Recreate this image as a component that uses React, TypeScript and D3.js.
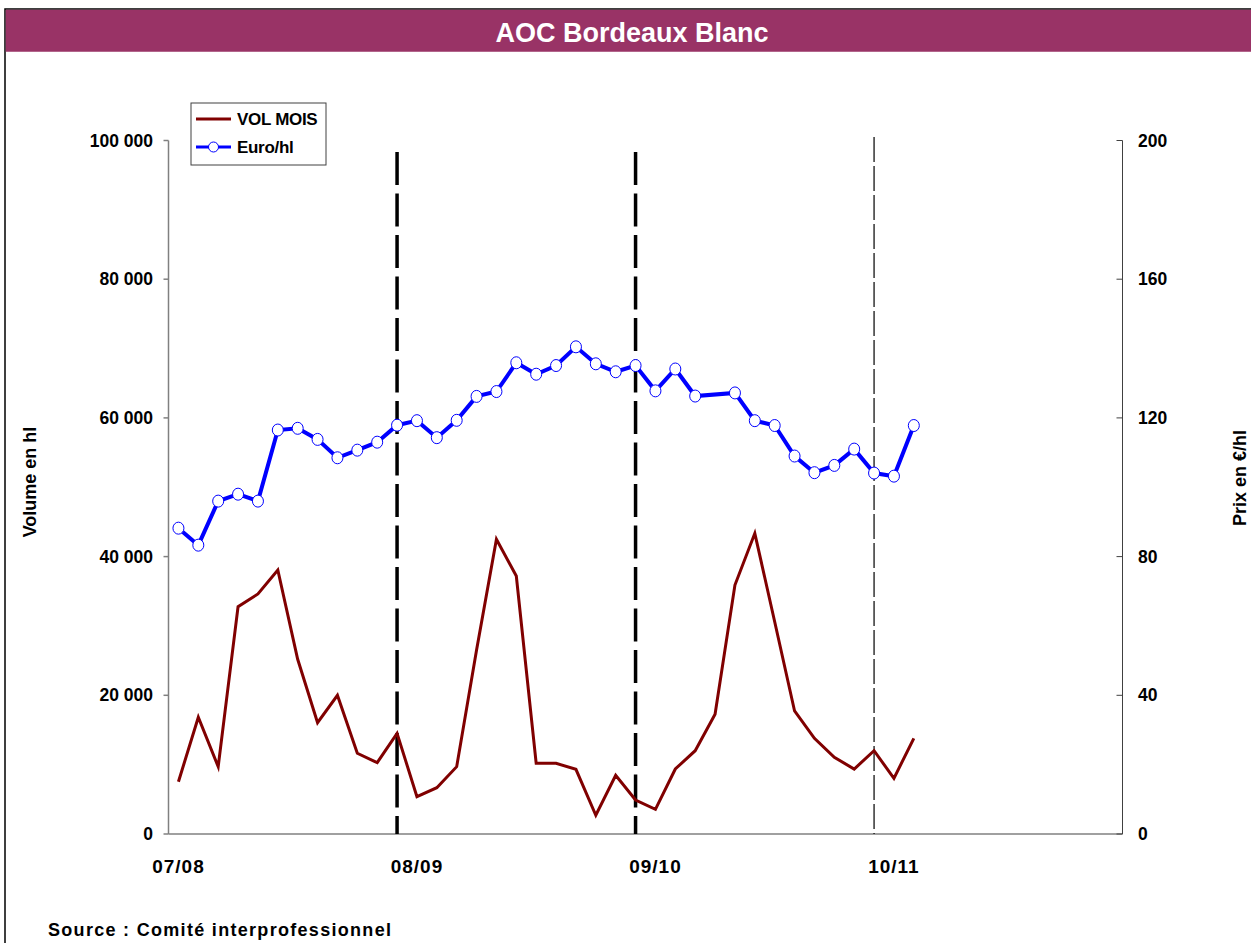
import React from "react";
import * as d3 from "d3";

const months: string[] = [
  "2007-08","2007-09","2007-10","2007-11","2007-12","2008-01","2008-02","2008-03","2008-04","2008-05","2008-06","2008-07",
  "2008-08","2008-09","2008-10","2008-11","2008-12","2009-01","2009-02","2009-03","2009-04","2009-05","2009-06","2009-07",
  "2009-08","2009-09","2009-10","2009-11","2009-12","2010-01","2010-02","2010-03","2010-04","2010-05","2010-06","2010-07",
  "2010-08","2010-09","2010-10","2010-11","2010-12","2011-01","2011-02","2011-03","2011-04","2011-05","2011-06","2011-07",
];

const volMois: number[] = [
  7540, 16830, 9710, 32780, 34610, 38070, 25190, 16050, 20000, 11640, 10280, 14520,
  5380, 6680, 9710, 26530, 42490, 37200, 10190, 10190, 9330, 2700, 8460, 4900,
  3560, 9370, 12010, 17260, 35900, 43360, 30610, 17740, 13800, 11060, 9370, 12010,
  8030, 13800,
];

const euroHl: (number | null)[] = [
  88.2, 83.3, 96.0, 98.0, 96.0, 116.5, 117.0, 113.8, 108.5, 110.7, 113.0, 117.9,
  119.2, 114.3, 119.3, 126.2, 127.6, 135.9, 132.6, 135.1, 140.5, 135.6, 133.3, 135.1,
  127.8, 134.1, 126.3, null, 127.2, 119.2, 117.8, 109.0, 104.2, 106.3, 111.0, 104.1,
  103.2, 117.8,
];

const campaignLabels: string[] = ["07/08", "08/09", "09/10", "10/11"];
const campaignStartMonths: string[] = ["2007-08", "2008-08", "2009-08", "2010-08"];
const campaignEndMonths: string[] = ["2008-07", "2009-07", "2010-07"];
const volTicks: number[] = [0, 20000, 40000, 60000, 80000, 100000];
const priceTicks: number[] = [0, 40, 80, 120, 160, 200];

const W = 1251;
const H = 943;
const left = 168.5;
const right = 1122.5;
const top = 140.5;
const bottom = 834;

const FONT = "'Liberation Sans', Arial, sans-serif";

export default function App() {
  const x = d3.scaleBand<string>().domain(months).range([left, right]).padding(0);
  const cx = (i: number) => (x(months[i]) as number) + x.bandwidth() / 2;
  const yV = d3.scaleLinear().domain([0, 100000]).range([bottom, top]);
  const yP = d3.scaleLinear().domain([0, 200]).range([bottom, top]);

  const volLine = d3
    .line<number>()
    .x((_, i) => cx(i))
    .y((d) => yV(d))(volMois) as string;

  const pricePts = euroHl
    .map((v, i) => ({ v, i }))
    .filter((d) => d.v !== null) as { v: number; i: number }[];
  const priceLine = d3
    .line<{ v: number; i: number }>()
    .x((d) => cx(d.i))
    .y((d) => yP(d.v))(pricePts) as string;

  const fmt = (v: number) => d3.format(",")(v).replace(/,/g, " ");

  return (
    <svg
      width={W}
      height={H}
      style={{ position: "absolute", left: 0, top: 0, background: "#fff" }}
      fontFamily={FONT}
    >
      {/* frame & title bar */}
      <rect x={5} y={9} width={W} height={H} fill="#fff" stroke="#000" strokeWidth={1.5} />
      <rect x={5.75} y={9.75} width={W} height={42} fill="#993366" />
      <text x={632} y={42} textAnchor="middle" fill="#fff" fontWeight="bold" fontSize={27}>
        AOC Bordeaux Blanc
      </text>

      {/* axes */}
      <line x1={left} x2={left} y1={top} y2={bottom} stroke="#808080" strokeWidth={1.5} />
      <line x1={left} x2={right} y1={bottom} y2={bottom} stroke="#808080" strokeWidth={1.5} />
      <line x1={right} x2={right} y1={top} y2={bottom} stroke="#404040" strokeWidth={1} />
      {volTicks.map((t) => (
        <g key={"v" + t}>
          <line x1={left - 5} x2={left} y1={yV(t)} y2={yV(t)} stroke="#808080" strokeWidth={1.5} />
          <text x={153} y={yV(t) + 6} textAnchor="end" fontWeight="bold" fontSize={17.5}>
            {fmt(t)}
          </text>
        </g>
      ))}
      {priceTicks.map((t) => (
        <g key={"p" + t}>
          <line x1={right - 6} x2={right} y1={yP(t)} y2={yP(t)} stroke="#404040" strokeWidth={1} />
          <text x={1138} y={yP(t) + 6} textAnchor="start" fontWeight="bold" fontSize={17.5}>
            {t}
          </text>
        </g>
      ))}
      {campaignLabels.map((l, k) => (
        <text
          key={l}
          x={(x(campaignStartMonths[k]) as number) + x.bandwidth() / 2}
          y={873}
          textAnchor="middle"
          fontWeight="bold"
          fontSize={19}
          letterSpacing={1}
        >
          {l}
        </text>
      ))}
      <text
        transform={`translate(36,482) rotate(-90)`}
        textAnchor="middle"
        fontWeight="bold"
        fontSize={18}
      >
        Volume en hl
      </text>
      <text
        transform={`translate(1246,478) rotate(-90)`}
        textAnchor="middle"
        fontWeight="bold"
        fontSize={18}
      >
        Prix en €/hl
      </text>

      {/* separators */}
      {campaignEndMonths.map((m, k) => {
        const xx = (x(m) as number) + x.bandwidth() / 2;
        const bold = k < 2;
        return (
          <line
            key={m}
            x1={xx}
            x2={xx}
            y1={bold ? 152 : 137}
            y2={bottom}
            stroke="#000"
            strokeWidth={bold ? 3.5 : 1.2}
            strokeDasharray={bold ? "33 8.5" : "25 4"}
          />
        );
      })}

      {/* series */}
      <path d={volLine} fill="none" stroke="#800000" strokeWidth={3} strokeLinejoin="miter" />
      <path d={priceLine} fill="none" stroke="#0000ff" strokeWidth={4} />
      {pricePts.map((d) => (
        <ellipse
          key={d.i}
          cx={cx(d.i)}
          cy={yP(d.v)}
          rx={5.5}
          ry={6}
          fill="#fff"
          stroke="#0000ff"
          strokeWidth={1}
        />
      ))}

      {/* legend */}
      <rect x={191} y={103} width={135} height={62} fill="#fff" stroke="#404040" strokeWidth={1} />
      <line x1={196} x2={231} y1={119} y2={119} stroke="#800000" strokeWidth={3} />
      <text x={237} y={125} fontWeight="bold" fontSize={17} letterSpacing={-0.3}>
        VOL MOIS
      </text>
      <line x1={196} x2={231} y1={147} y2={147} stroke="#0000ff" strokeWidth={3} />
      <ellipse cx={213.5} cy={147} rx={5} ry={5} fill="#fff" stroke="#0000ff" strokeWidth={1} />
      <text x={237} y={153} fontWeight="bold" fontSize={17} letterSpacing={-0.3}>
        Euro/hl
      </text>

      {/* source */}
      <text x={48} y={936} fontWeight="bold" fontSize={18} letterSpacing={1.3}>
        Source : Comité interprofessionnel
      </text>
    </svg>
  );
}
